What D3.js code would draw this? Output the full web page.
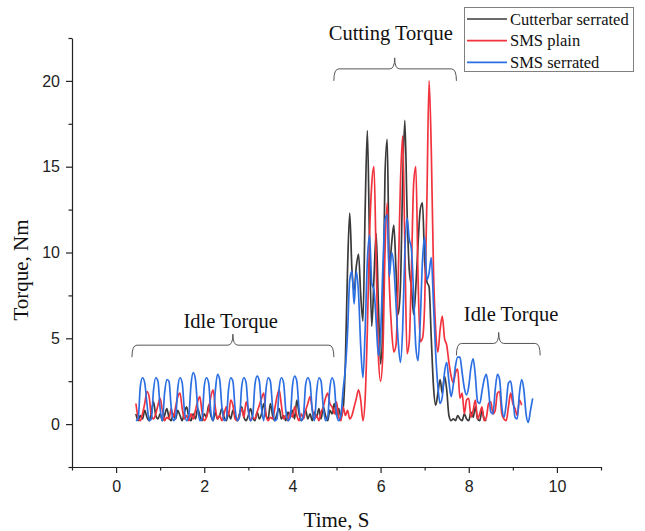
<!DOCTYPE html>
<html><head><meta charset="utf-8">
<script src="https://cdn.jsdelivr.net/npm/d3@7"></script>
<style>
html,body{margin:0;padding:0;background:#fff;}
svg{display:block;}
</style></head>
<body><svg id="chart" width="645" height="531"></svg>
<script>
// Sampling grid (s)
const time = [
0.45,0.50,0.55,0.60,0.65,0.70,0.75,0.80,0.85,0.90,
0.95,1.00,1.05,1.10,1.15,1.20,1.25,1.30,1.35,1.40,
1.45,1.50,1.55,1.60,1.65,1.70,1.75,1.80,1.85,1.90,
1.95,2.00,2.05,2.10,2.15,2.20,2.25,2.30,2.35,2.40,
2.45,2.50,2.55,2.60,2.65,2.70,2.75,2.80,2.85,2.90,
2.95,3.00,3.05,3.10,3.15,3.20,3.25,3.30,3.35,3.40,
3.45,3.50,3.55,3.60,3.65,3.70,3.75,3.80,3.85,3.90,
3.95,4.00,4.05,4.10,4.15,4.20,4.25,4.30,4.35,4.40,
4.45,4.50,4.55,4.60,4.65,4.70,4.75,4.80,4.85,4.90,
4.95,5.00,5.05,5.10,5.15,5.20,5.25,5.30,5.35,5.40,
5.45,5.50,5.55,5.60,5.65,5.70,5.75,5.80,5.85,5.90,
5.95,6.00,6.05,6.10,6.15,6.20,6.25,6.30,6.35,6.40,
6.45,6.50,6.55,6.60,6.65,6.70,6.75,6.80,6.85,6.90,
6.95,7.00,7.05,7.10,7.15,7.20,7.25,7.30,7.35,7.40,
7.45,7.50,7.55,7.60,7.65,7.70,7.75,7.80,7.85,7.90,
7.95,8.00,8.05,8.10,8.15,8.20,8.25,8.30,8.35,8.40,
8.45,8.50,8.55,8.60,8.65,8.70,8.75,8.80,8.85,8.90,
8.95,9.00,9.05,9.10,9.15,9.20,9.25,9.30,9.35,9.40,
9.45
];

// Torque (Nm) – Cutterbar serrated
const cutterbarSerrated = [
0.6,0.2,0.5,0.3,0.8,0.4,0.2,0.7,1.3,0.5,
0.3,0.6,0.2,0.5,0.9,0.4,0.2,0.6,0.3,0.8,
0.5,0.2,0.7,1.0,0.4,0.2,0.6,0.3,0.9,0.5,
0.2,0.6,0.4,1.1,0.5,0.2,0.7,0.3,0.5,0.9,
0.4,0.2,0.6,0.3,0.8,0.5,0.2,0.6,1.0,0.4,
0.2,0.5,0.9,0.4,0.2,0.7,0.3,0.6,1.2,0.5,
0.3,1.2,0.5,0.2,0.6,0.9,0.3,0.5,0.2,0.7,
0.4,0.8,0.3,1.4,0.6,0.2,0.5,0.8,0.3,0.6,
0.2,0.7,0.4,0.9,0.3,1.0,0.5,0.2,0.8,0.6,
1.2,0.5,0.9,0.4,0.9,3.5,9.0,12.3,9.0,7.8,
9.2,9.9,7.5,6.0,12.5,17.1,10.5,5.7,8.5,11.1,
7.0,3.5,6.0,14.5,16.6,9.0,10.5,11.6,9.0,6.4,
8.0,14.0,17.7,12.5,9.0,8.0,6.4,8.0,10.5,12.5,
12.9,9.5,8.3,8.0,5.0,2.2,1.1,1.8,2.6,1.8,
2.8,2.0,0.5,0.2,0.3,0.2,0.5,0.3,0.2,0.6,
0.3,0.2,0.7,0.4,1.0,0.3,0.2,0.8,0.3,0.2,
null,null,null,null,null,null,null,null,null,null,
null,null,null,null,null,null,null,null,null,null,
null
];

// Torque (Nm) – SMS plain
const smsPlain = [
1.2,0.4,0.2,0.6,1.2,1.9,1.6,0.5,0.3,0.6,
1.1,1.5,0.8,0.2,0.4,0.3,0.9,0.4,1.0,1.6,
1.8,0.9,0.3,0.5,0.2,0.6,0.3,0.8,1.3,1.6,
0.7,0.2,0.4,0.9,1.6,2.0,1.0,0.3,0.5,0.2,
0.6,1.0,0.5,1.4,1.1,0.3,0.2,0.5,0.9,0.4,
1.3,0.8,0.2,0.4,0.3,0.7,1.1,1.5,1.8,0.6,
0.2,0.4,0.3,0.9,1.6,2.0,1.1,0.3,0.5,0.2,
0.7,0.4,1.0,0.5,0.2,0.6,0.3,0.8,1.2,1.6,
0.9,0.3,0.5,0.2,0.7,1.0,1.5,1.8,1.2,1.0,
0.6,1.3,0.4,0.2,1.0,0.5,0.8,0.3,0.5,1.0,
1.5,2.0,1.4,0.2,1.5,5.5,11.0,14.0,15.0,9.5,
4.0,2.5,4.0,10.0,12.9,8.0,5.5,4.2,4.6,8.5,
14.0,16.8,10.5,4.1,4.8,9.0,14.0,15.0,8.5,4.8,
5.0,7.0,13.0,20.0,16.0,9.0,5.5,4.2,5.5,6.3,
5.0,4.6,3.6,2.8,2.4,3.0,3.2,1.5,1.8,0.6,
1.4,1.5,0.4,0.8,1.4,0.3,0.6,1.0,0.2,0.4,
1.2,1.3,0.6,0.8,1.8,1.9,0.6,0.3,0.2,1.0,
1.8,1.2,0.9,0.5,1.4,1.1,null,null,null,null,
null
];

// Torque (Nm) – SMS serrated
const smsSerrated = [
0.2,0.3,2.2,2.7,2.4,1.2,0.2,0.3,2.0,2.7,
2.5,0.9,0.2,1.8,2.6,2.5,1.0,0.2,0.4,2.1,
2.7,2.4,0.8,0.2,0.5,2.3,3.0,2.6,1.0,0.2,
0.3,2.2,2.7,2.4,0.7,0.2,1.9,2.9,2.6,1.0,
0.2,0.3,2.0,2.7,2.5,0.9,0.2,0.4,2.2,2.7,
2.4,0.8,0.2,0.5,2.3,2.8,2.5,0.9,0.2,2.0,
2.7,2.5,1.0,0.2,0.3,2.1,2.7,2.4,0.8,0.2,
0.4,2.2,2.8,2.5,0.9,0.2,0.5,2.3,2.7,2.4,
0.8,0.2,1.9,2.7,2.5,1.0,0.2,0.4,2.1,2.7,
2.3,0.6,0.2,0.5,2.0,3.2,5.3,8.4,8.9,7.0,
8.9,7.6,4.5,2.7,5.5,9.5,11.0,8.2,7.8,6.0,
4.0,5.2,9.0,11.9,12.2,8.6,10.0,9.2,7.0,4.8,
3.6,5.5,10.0,12.0,10.8,10.2,7.5,4.5,3.7,6.0,
9.5,10.9,8.4,8.8,9.7,7.0,4.1,2.2,1.2,1.6,
3.0,3.6,2.5,1.6,2.3,3.4,3.9,3.9,3.0,2.1,
1.7,2.2,3.3,3.8,2.8,1.3,1.2,1.9,2.6,2.9,
2.0,0.7,0.6,2.0,2.9,2.6,1.0,0.4,1.2,2.4,
2.5,1.6,0.4,0.3,1.8,2.6,2.0,0.6,0.1,0.8,
1.5
];

const seriesNames = ["Cutterbar serrated", "SMS plain", "SMS serrated"];
const seriesColors = ["#3a3a3a", "#f2333d", "#2c6fe3"];
const seriesValues = [cutterbarSerrated, smsPlain, smsSerrated];

const xMajorTicks = [0, 2, 4, 6, 8, 10];
const xMinorTicks = [-1, 1, 3, 5, 7, 9, 11];
const yMajorTicks = [0, 5, 10, 15, 20];
const yMinorTicks = [-2.5, 2.5, 7.5, 12.5, 17.5, 22.5];

const annotationLabels = ["Idle Torque", "Cutting Torque", "Idle Torque"];
const annotationSpans = [[0.36, 4.94], [4.94, 7.72], [7.72, 9.62]];
const annotationNotch = [2.65, 6.32, 8.68];
const annotationLevel = [4.6, 20.7, 4.7];
const annotationTextPos = [[2.6, 5.6], [6.23, 22.36], [8.96, 6.0]];

// ---------- drawing ----------
const svg = d3.select("#chart");
const W = 645, H = 531;
const margin = {top: 38, right: 44, bottom: 64, left: 72};
const x = d3.scaleLinear().domain([-1, 11]).range([margin.left, W - margin.right]);
const y = d3.scaleLinear().domain([-2.5, 22.5]).range([H - margin.bottom, margin.top]);

const tickFont = "'Liberation Sans', Arial, sans-serif";
const serif = "'Liberation Serif', 'Times New Roman', serif";

// axes
const gx = svg.append("g").attr("transform", `translate(0,${y(-2.5)})`)
  .call(d3.axisBottom(x).tickValues(xMajorTicks).tickSize(6).tickSizeOuter(0).tickPadding(8));
svg.append("g").attr("transform", `translate(0,${y(-2.5)})`)
  .call(d3.axisBottom(x).tickValues(xMinorTicks).tickSize(3.5).tickSizeOuter(0).tickFormat(""))
  .select(".domain").remove();
const gy = svg.append("g").attr("transform", `translate(${x(-1)},0)`)
  .call(d3.axisLeft(y).tickValues(yMajorTicks).tickSize(6).tickSizeOuter(0).tickPadding(6));
svg.append("g").attr("transform", `translate(${x(-1)},0)`)
  .call(d3.axisLeft(y).tickValues(yMinorTicks).tickSize(3.5).tickSizeOuter(0).tickFormat(""))
  .select(".domain").remove();

svg.selectAll(".domain, .tick line").attr("stroke", "#222").attr("stroke-width", 1.2);
svg.selectAll(".tick text").attr("font-family", tickFont).attr("font-size", 16).attr("fill", "#222");

// axis titles
svg.append("text").attr("x", (x(-1) + x(11)) / 2).attr("y", 527)
  .attr("text-anchor", "middle").attr("font-family", serif).attr("font-size", 21).attr("fill", "#111")
  .text("Time, S");
svg.append("text").attr("transform", `translate(28,${270}) rotate(-90)`)
  .attr("text-anchor", "middle").attr("font-family", serif).attr("font-size", 21).attr("fill", "#111")
  .text("Torque, Nm");

// lines
const line = d3.line()
  .defined(d => d[1] !== null)
  .x(d => x(d[0])).y(d => y(d[1]))
  .curve(d3.curveMonotoneX);

seriesValues.forEach((vals, k) => {
  const pts = time.map((t, i) => [t, vals[i] === undefined ? null : vals[i]]);
  svg.append("path").datum(pts)
    .attr("fill", "none").attr("stroke", seriesColors[k])
    .attr("stroke-width", 1.7).attr("stroke-linejoin", "round")
    .attr("d", line);
});

// annotation brackets
function bracketPath(x1, x2, xm, yh) {
  const d = 12, n = 11, r = 5;
  return `M${x1},${yh + d} Q${x1},${yh} ${x1 + r},${yh} L${xm - r},${yh} Q${xm},${yh} ${xm},${yh - n} ` +
         `Q${xm},${yh} ${xm + r},${yh} L${x2 - r},${yh} Q${x2},${yh} ${x2},${yh + d}`;
}
annotationLabels.forEach((lab, k) => {
  svg.append("path")
    .attr("d", bracketPath(x(annotationSpans[k][0]), x(annotationSpans[k][1]), x(annotationNotch[k]), y(annotationLevel[k])))
    .attr("fill", "none").attr("stroke", "#555").attr("stroke-width", 1);
  svg.append("text")
    .attr("x", x(annotationTextPos[k][0])).attr("y", y(annotationTextPos[k][1]))
    .attr("text-anchor", "middle").attr("font-family", serif).attr("font-size", 20.5).attr("fill", "#111")
    .text(lab);
});

// legend
const lg = svg.append("g");
lg.append("rect").attr("x", 464.5).attr("y", 7.5).attr("width", 169).attr("height", 64)
  .attr("fill", "#fff").attr("stroke", "#808080").attr("stroke-width", 1);
seriesNames.forEach((name, k) => {
  const yy = 19 + k * 21.7;
  lg.append("line").attr("x1", 467).attr("x2", 507).attr("y1", yy).attr("y2", yy)
    .attr("stroke", seriesColors[k]).attr("stroke-width", 1.7);
  lg.append("text").attr("x", 510).attr("y", yy + 5.5)
    .attr("font-family", serif).attr("font-size", 16.5).attr("fill", "#111").text(name);
});
</script>
</body></html>
